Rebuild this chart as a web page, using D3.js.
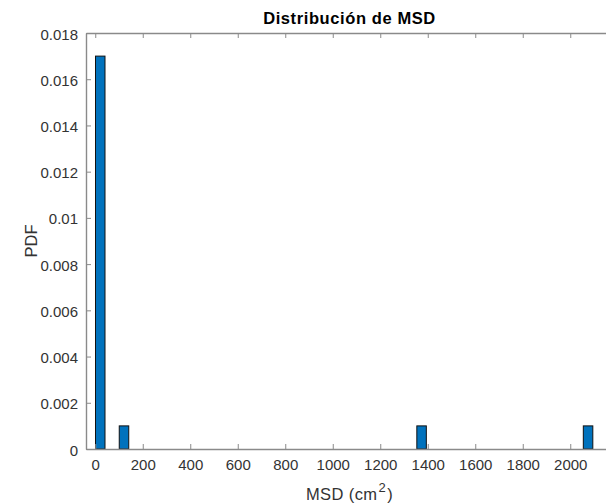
<!DOCTYPE html>
<html>
<head>
<meta charset="utf-8">
<script src="https://cdn.jsdelivr.net/npm/d3@7"></script>
<style>
  body { margin: 0; background: #fff; }
  svg { display: block; font-family: "Liberation Sans", Arial, sans-serif; }
  .axis path, .axis line { stroke: #8a8a8a; }
  .axis text { fill: #333; font-size: 15px; font-family: "Liberation Sans", Arial, sans-serif; }
</style>
</head>
<body>
<div id="chart"></div>
<script>
// histogram of MSD values (bin centres in cm^2, pdf per bin)
var binCenters = [21, 121, 1374, 2075];
var pdfValues = [0.017, 0.001, 0.001, 0.001];
var binWidth = 50;
var xTicks = [0, 200, 400, 600, 800, 1000, 1200, 1400, 1600, 1800, 2000];
var yTicks = [0, 0.002, 0.004, 0.006, 0.008, 0.01, 0.012, 0.014, 0.016, 0.018];

var width = 606, height = 504;
var margin = {left: 86, top: 33, right: 613, bottom: 449};

var svg = d3.select('#chart').append('svg')
  .attr('width', width)
  .attr('height', height);

var x = d3.scaleLinear().domain([-39, 2180]).range([margin.left, margin.right]);
var y = d3.scaleLinear().domain([0, 0.018]).range([margin.bottom, margin.top]);

// bars
var bw = x(binWidth * 0.8) - x(0);
svg.selectAll('rect.bar')
  .data(binCenters)
  .enter().append('rect')
  .attr('class', 'bar')
  .attr('x', function(d) { return x(d) - bw / 2; })
  .attr('y', function(d, i) { return y(pdfValues[i]); })
  .attr('width', bw)
  .attr('height', function(d, i) { return y(0) - y(pdfValues[i]); })
  .attr('fill', '#0072bd')
  .attr('stroke', '#111')
  .attr('stroke-width', 1);

// bottom axis
var xAxis = svg.append('g')
  .attr('class', 'axis')
  .attr('transform', 'translate(0,' + margin.bottom + ')')
  .call(d3.axisBottom(x).tickValues(xTicks).tickSizeInner(-5).tickSizeOuter(0).tickPadding(10)
    .tickFormat(d3.format('d')));
xAxis.select('.domain').attr('stroke-width', 1.4);
xAxis.selectAll('.tick line').attr('stroke', '#555');

// top axis, ticks only
var xTop = svg.append('g')
  .attr('class', 'axis')
  .attr('transform', 'translate(0,' + margin.top + ')')
  .call(d3.axisTop(x).tickValues(xTicks).tickSizeInner(-5).tickSizeOuter(0).tickFormat(''));
xTop.select('.domain').attr('stroke-width', 1.4);
xTop.selectAll('.tick line').attr('stroke', '#555');

// left axis
var yAxis = svg.append('g')
  .attr('class', 'axis')
  .attr('transform', 'translate(' + margin.left + ',0)')
  .call(d3.axisLeft(y).tickValues(yTicks).tickSizeInner(-5).tickSizeOuter(0).tickPadding(8)
    .tickFormat(function(d) { return d === 0 ? '0' : d3.format('.3~f')(d); }));
yAxis.select('.domain').attr('stroke-width', 1.4);
yAxis.selectAll('.tick line').attr('stroke', '#555');
yAxis.selectAll('.tick text').attr('dy', '0.4em');

var cx = (margin.left + margin.right) / 2;

// title
svg.append('text')
  .attr('x', cx)
  .attr('y', 24)
  .attr('text-anchor', 'middle')
  .attr('font-size', '16.5px')
  .attr('font-weight', 'bold')
  .attr('letter-spacing', '0.6px')
  .attr('fill', '#000')
  .text('Distribución de MSD');

// x label
var xl = svg.append('text')
  .attr('x', cx)
  .attr('y', 500)
  .attr('text-anchor', 'middle')
  .attr('font-size', '16.5px')
  .attr('letter-spacing', '0.4px')
  .attr('fill', '#333');
xl.append('tspan').text('MSD (cm');
xl.append('tspan').attr('dy', -8).attr('dx', 1).attr('font-size', '13px').text('2');
xl.append('tspan').attr('dy', 8).attr('dx', 1).text(')');

// y label
svg.append('text')
  .attr('transform', 'translate(37,' + (margin.top + margin.bottom) / 2 + ') rotate(-90)')
  .attr('text-anchor', 'middle')
  .attr('font-size', '16.5px')
  .attr('fill', '#333')
  .text('PDF');
</script>
</body>
</html>
